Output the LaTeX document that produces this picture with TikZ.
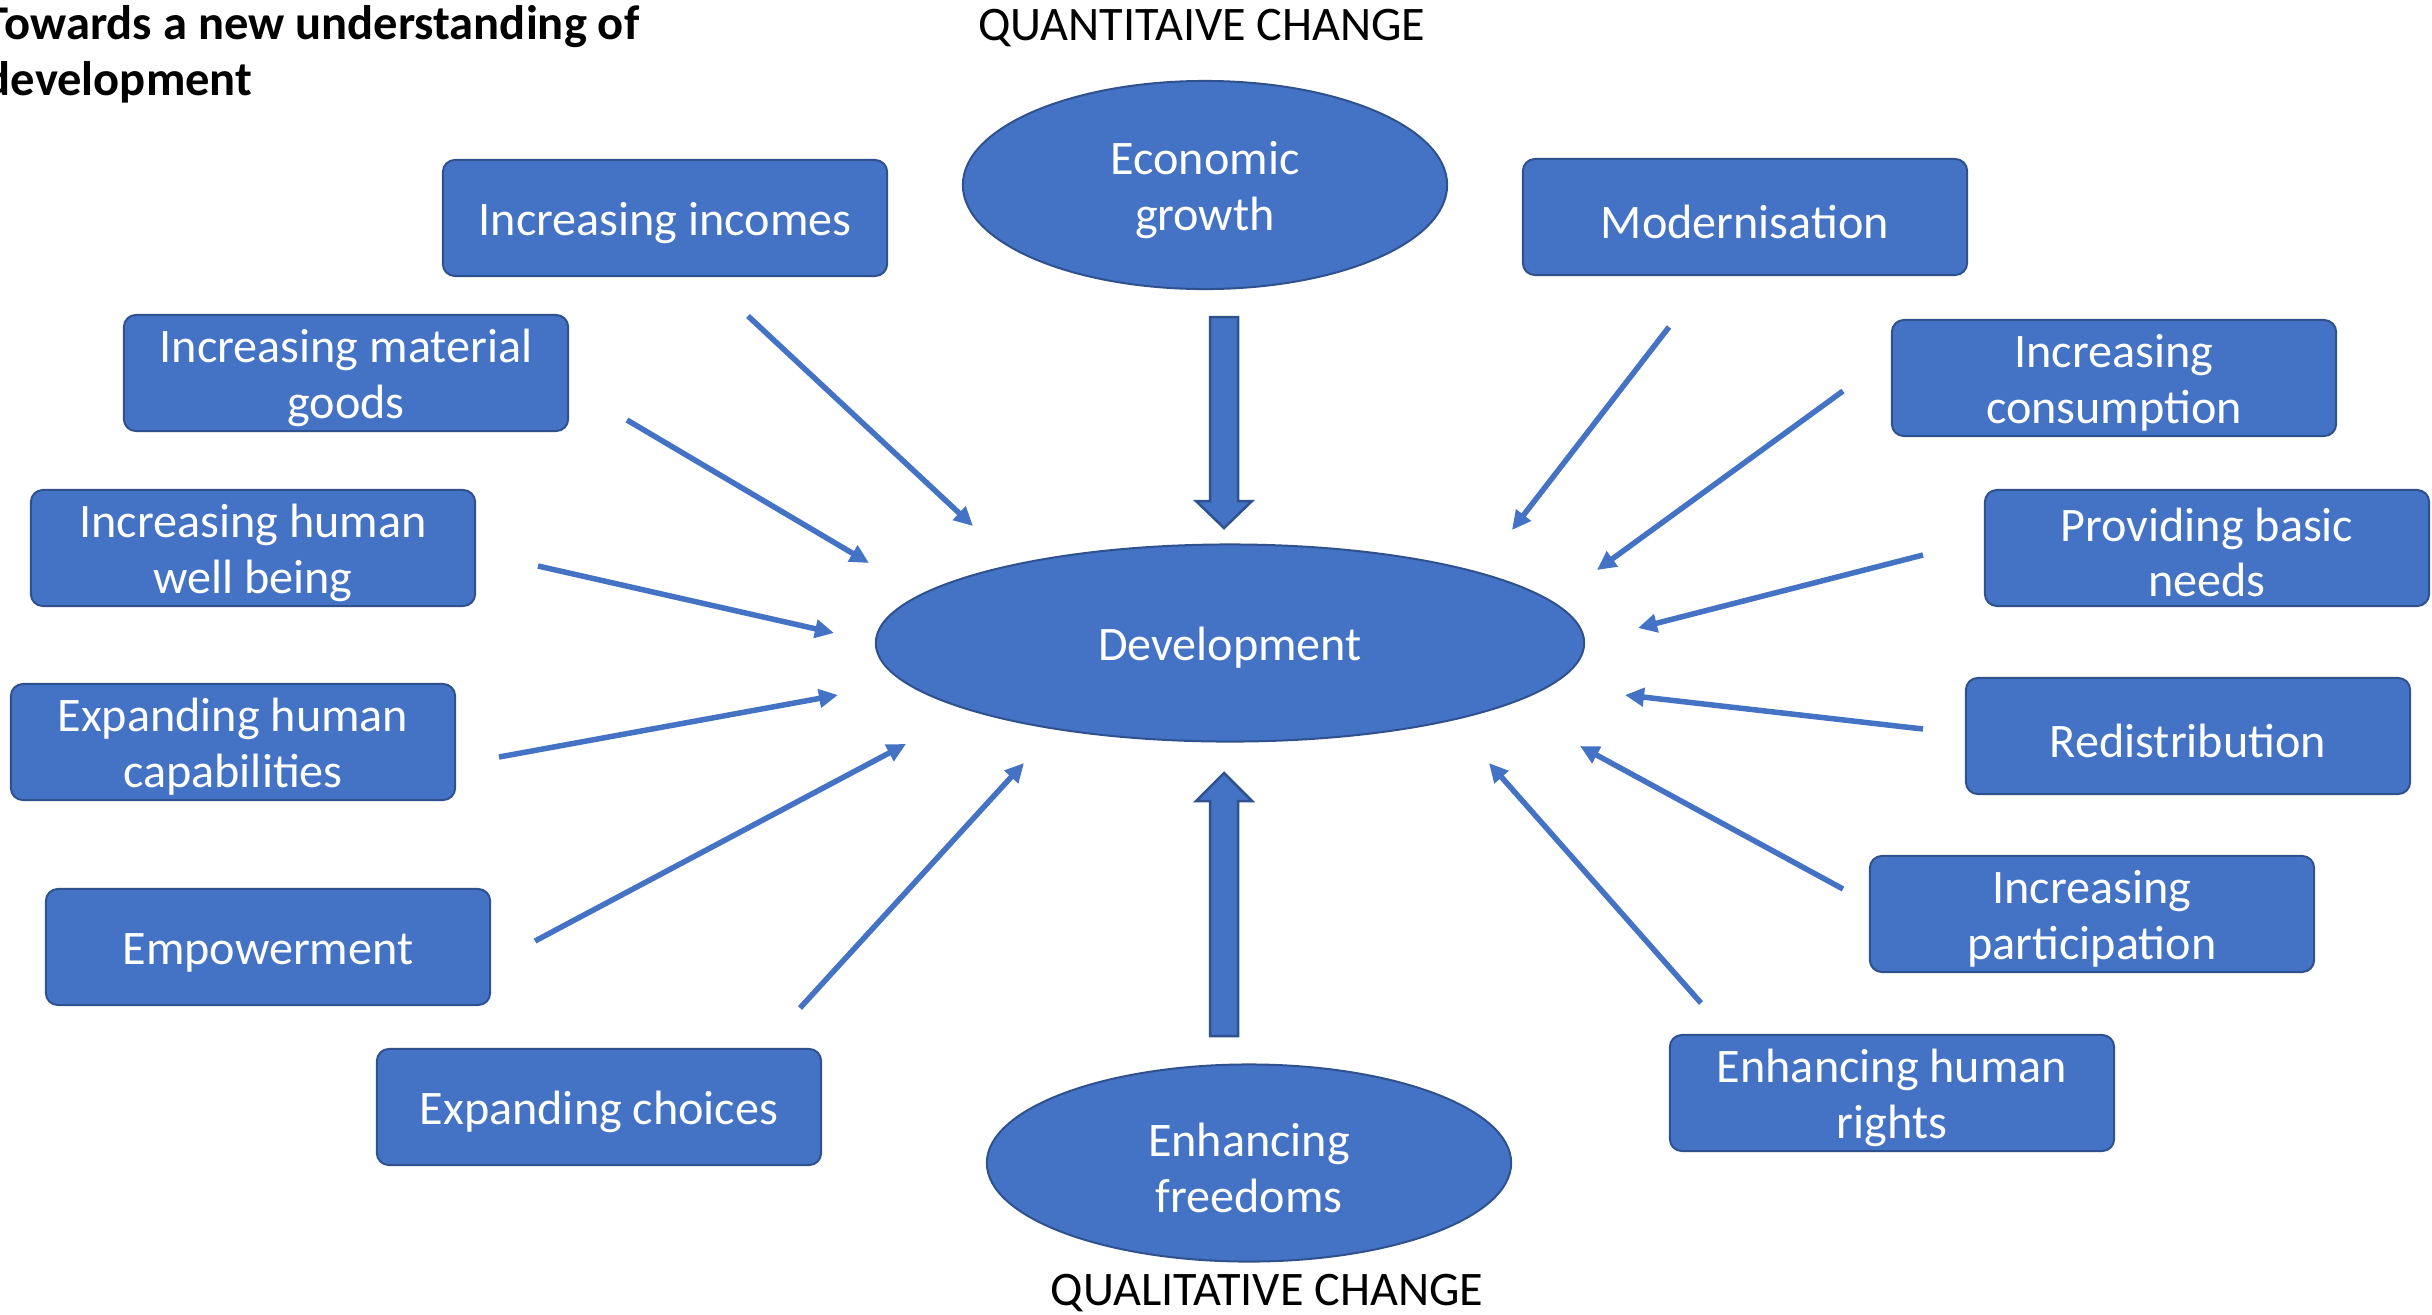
\documentclass[tikz,border=0pt]{standalone}
\usepackage{fontspec}
\setmainfont{Carlito}
\usetikzlibrary{shapes.geometric,arrows.meta}
\definecolor{obl}{HTML}{4472C4}
\definecolor{obd}{HTML}{2F528F}
\newcommand\myup{\rule{0pt}{0.88em}}
\begin{document}
\begin{tikzpicture}[x=0.01cm,y=-0.01cm,
  txt/.style={font=\fontsize{13.7}{15.9}\selectfont},
  box/.style={txt, draw=obd, line width=0.02cm, fill=obl, rounded corners=0.12cm,
    minimum width=4.44cm, minimum height=1.16cm, inner sep=0pt, text=white, align=center},
  oval/.style={txt, ellipse, draw=obd, line width=0.02cm, fill=obl, inner sep=0pt,
    text=white, align=center},
  conn/.style={draw=obl, line width=0.055cm, -{Triangle[length=0.19cm,width=0.18cm]}},
  blk/.style={fill=obl, draw=obd, line width=0.025cm, line join=miter}]
\useasboundingbox (0,0) rectangle (2432,1314);
\fill[white] (0,0) rectangle (2432,1314);

% title and labels
\node[font=\fontsize{13.8}{15.9}\selectfont\bfseries, anchor=east, align=left, inner sep=0pt] (title) at (640,54)
  {Towards a new understanding of\\development};
\node[txt, inner sep=0pt] (quant) at (1202,28) {QUANTITAIVE CHANGE};
\node[txt, inner sep=0pt] (qual) at (1267,1293) {QUALITATIVE CHANGE};

% ellipses
\node[oval, minimum width=4.84cm, minimum height=2.08cm] (eg) at (1205,185) {\myup Economic\\growth};
\node[oval, minimum width=7.08cm, minimum height=1.97cm] (dev) at (1230,643) {\myup Development};
\node[oval, minimum width=5.24cm, minimum height=1.97cm] (ef) at (1249,1163) {\myup Enhancing\\freedoms};

% boxes left
\node[box] (inc) at (665,218) {\myup Increasing incomes};
\node[box] (mat) at (346,373) {\myup Increasing material\\goods};
\node[box] (wb)  at (253,548) {\myup Increasing human\\well being};
\node[box] (cap) at (233,742) {\myup Expanding human\\capabilities};
\node[box] (emp) at (268,947) {\myup Empowerment};
\node[box] (cho) at (599,1107) {\myup Expanding choices};
% boxes right
\node[box] (mod) at (1745,217) {\myup Modernisation};
\node[box] (con) at (2114,378) {\myup Increasing\\consumption};
\node[box] (bas) at (2207,548) {\myup Providing basic\\needs};
\node[box] (red) at (2188,736) {\myup Redistribution};
\node[box] (par) at (2092,914) {\myup Increasing\\participation};
\node[box] (hr)  at (1892,1093) {\myup Enhancing human\\rights};

% connector end points
\coordinate (s1) at (748,316);   \coordinate (e1) at (973,526);
\coordinate (s2) at (627,420);   \coordinate (e2) at (869,563);
\coordinate (s3) at (538,566);   \coordinate (e3) at (834,633);
\coordinate (s4) at (499,757);   \coordinate (e4) at (838,695);
\coordinate (s5) at (535,941);   \coordinate (e5) at (906,744);
\coordinate (s6) at (800,1008);  \coordinate (e6) at (1024,763);
\coordinate (s7) at (1669,327);  \coordinate (e7) at (1512,530);
\coordinate (s8) at (1843,391);  \coordinate (e8) at (1597,570);
\coordinate (s9) at (1923,555);  \coordinate (e9) at (1638,628);
\coordinate (s10) at (1923,729); \coordinate (e10) at (1625,695);
\coordinate (s11) at (1843,889); \coordinate (e11) at (1580,746);
\coordinate (s12) at (1701,1003);\coordinate (e12) at (1489,763);

\foreach \i in {1,...,12} {\draw[conn] (s\i) -- (e\i);}

% block arrows
\draw[blk] (1210,317) -- (1238,317) -- (1238,501) -- (1252,501) -- (1224,528) -- (1196,501) -- (1210,501) -- cycle;
\draw[blk] (1210,1036) -- (1238,1036) -- (1238,801) -- (1252,801) -- (1224,773) -- (1196,801) -- (1210,801) -- cycle;
\end{tikzpicture}
\end{document}
